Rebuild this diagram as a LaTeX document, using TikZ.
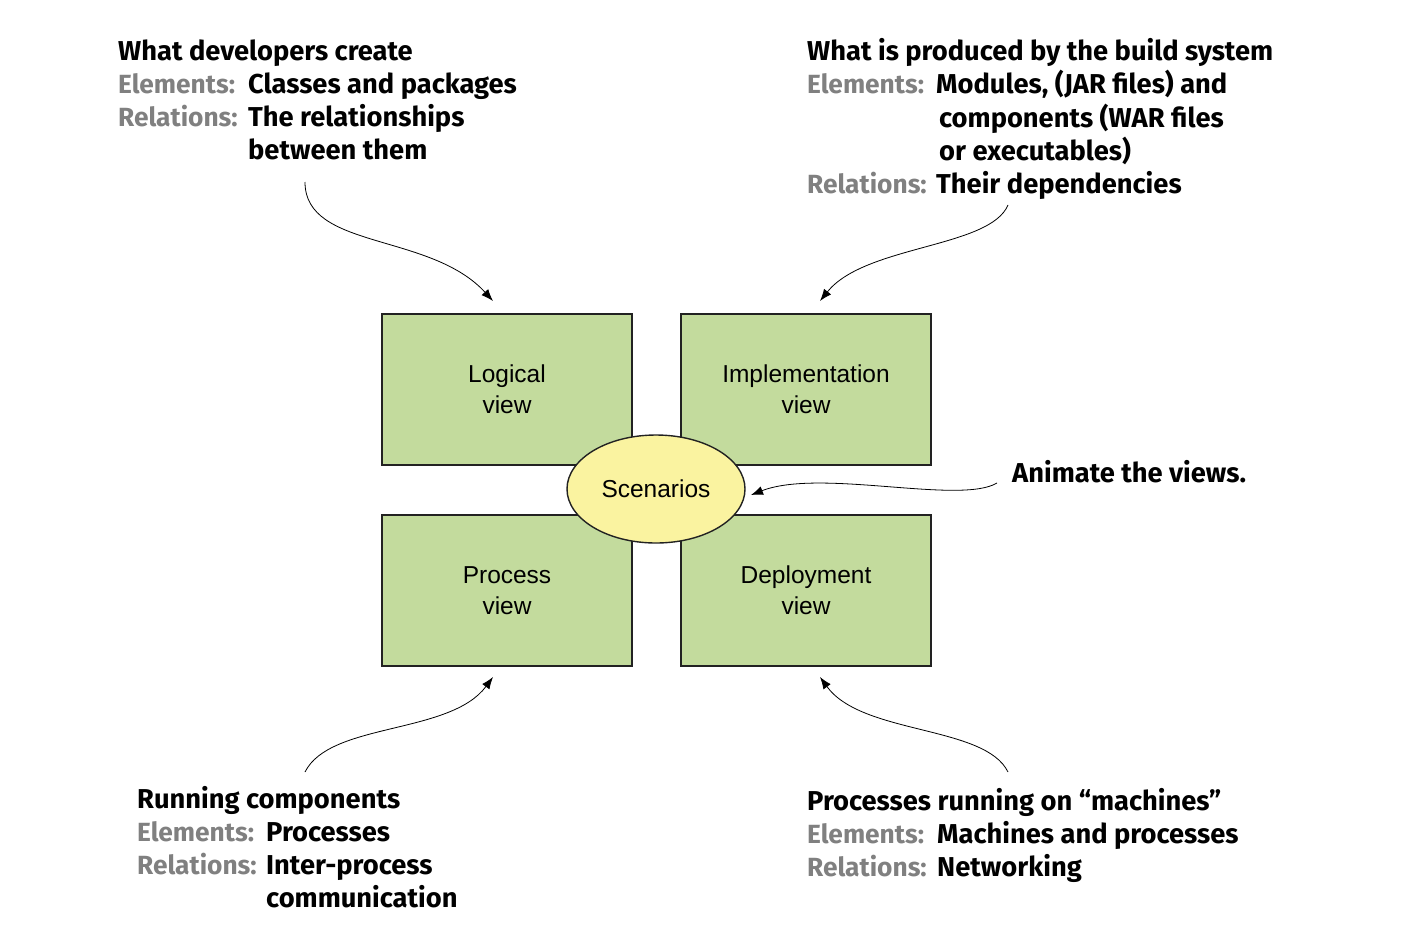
\documentclass[tikz,border=0pt]{standalone}
\usepackage{fontspec}
\setmainfont{Liberation Sans}
\newfontfamily\notefont{Fira Sans}
\usetikzlibrary{shapes.geometric,arrows.meta}
\definecolor{boxgreen}{RGB}{195,219,157}
\definecolor{scenyellow}{RGB}{250,243,160}
\definecolor{lblgray}{RGB}{128,128,128}
\definecolor{edgedark}{RGB}{34,34,34}
\newcommand{\gl}[1]{\textcolor{lblgray}{\fontsize{26.3}{33}\selectfont #1}}
\tikzset{
  viewbox/.style={draw=edgedark, line width=1.6pt, fill=boxgreen, minimum width=250pt, minimum height=151pt, inner sep=0pt, align=center, font=\fontsize{24.5}{31}\selectfont},
  scenario/.style={ellipse, draw=edgedark, line width=1.4pt, fill=scenyellow, minimum width=178pt, minimum height=108pt, inner sep=0pt, font=\fontsize{24.5}{31}\selectfont},
  note/.style={inner sep=0pt, font=\notefont\fontsize{27.3}{33}\bfseries\selectfont},
  pointer/.style={line width=0.8pt, -{Latex[length=12pt,width=9pt]}}
}
\begin{document}
\begin{tikzpicture}[x=1pt,y=-1pt]
\useasboundingbox (0,0) rectangle (1418,940);
% views
\node[viewbox] (logical) at (507,389.5) {Logical\\view};
\node[viewbox] (impl) at (806,389.5) {Implementation\\view};
\node[viewbox] (process) at (507,590.5) {Process\\view};
\node[viewbox] (deploy) at (806,590.5) {Deployment\\view};
\node[scenario] (scen) at (656,489) {Scenarios};
% notes
\node[note, anchor=north west] (nlog) at (118,37) {\begin{tabular}{@{}p{130pt}@{}l@{}}
\multicolumn{2}{@{}l@{}}{What developers create}\\
\gl{Elements:} & Classes and packages\\
\gl{Relations:} & The relationships\\
 & between them
\end{tabular}};
\node[note, anchor=north west] (nimpl) at (807,37) {\begin{tabular}{@{}p{129pt}@{}l@{}}
\multicolumn{2}{@{}l@{}}{What is produced by the build system}\\
\gl{Elements:} & Modules, (JAR files) and\\
 & \hspace{3pt}components (WAR files\\
 & \hspace{3pt}or executables)\\
\gl{Relations:} & Their dependencies
\end{tabular}};
\node[note, anchor=north west] (nproc) at (137,785) {\begin{tabular}{@{}p{129pt}@{}l@{}}
\multicolumn{2}{@{}l@{}}{Running components}\\
\gl{Elements:} & Processes\\
\gl{Relations:} & Inter-process\\
 & communication
\end{tabular}};
\node[note, anchor=north west] (ndep) at (807,787) {\begin{tabular}{@{}p{130pt}@{}l@{}}
\multicolumn{2}{@{}l@{}}{Processes running on “machines”}\\
\gl{Elements:} & Machines and processes\\
\gl{Relations:} & Networking
\end{tabular}};
\node[note, anchor=base west] (nanim) at (1012,482) {Animate the views.};
% connector anchors
\coordinate (slog) at (305,182);
\coordinate (tlog) at (493,301);
\coordinate (simpl) at (1008,205);
\coordinate (timpl) at (820,301);
\coordinate (sproc) at (305,772);
\coordinate (tproc) at (493,677);
\coordinate (sdep) at (1008,772);
\coordinate (tdep) at (820,677);
\coordinate (sanim) at (997,483);
\coordinate (tanim) at (751,495);
\draw[pointer] (slog) .. controls (305,250) and (430,232) .. (tlog);
\draw[pointer] (simpl) .. controls (990,248) and (865,245) .. (timpl);
\draw[pointer] (sproc) .. controls (330,722) and (450,735) .. (tproc);
\draw[pointer] (sdep) .. controls (985,725) and (862,735) .. (tdep);
\draw[pointer] (sanim) .. controls (960,505) and (820,468) .. (tanim);
\end{tikzpicture}
\end{document}
